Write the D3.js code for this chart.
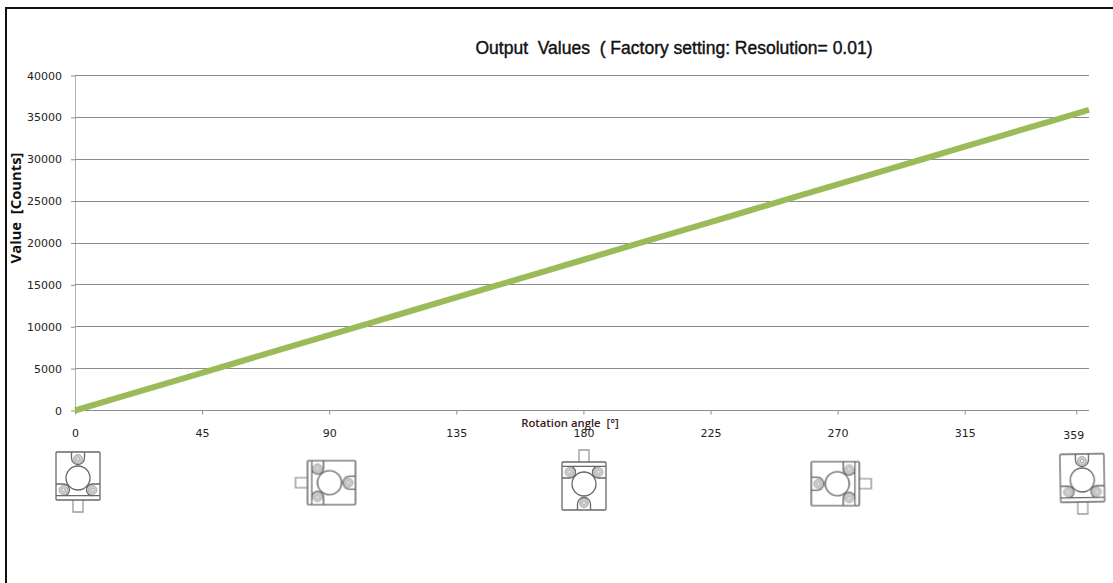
<!DOCTYPE html>
<html><head><meta charset="utf-8">
<script src="https://cdnjs.cloudflare.com/ajax/libs/d3/7.8.5/d3.min.js"></script>
<style>html,body{margin:0;padding:0;background:#fff}svg{display:block}</style>
</head><body><div id="c"></div>
<script>
const angles = [0,15,30,45,60,75,90,105,120,135,150,165,180,195,210,225,240,255,270,285,300,315,330,345,359];
const counts = [0,1500,3000,4500,6000,7500,9000,10500,12000,13500,15000,16500,18000,19500,21000,22500,24000,25500,27000,28500,30000,31500,33000,34500,35900];
const yTicks = [0,5000,10000,15000,20000,25000,30000,35000,40000];
const xTickPositions = [0,45,90,135,180,225,270,315,354.5];
const xTickLabels = ["0","45","90","135","180","225","270","315","359"];
const iconRotations = [0,90,180,270,359];
const titleText = "Output  Values  ( Factory setting: Resolution= 0.01)";
const xTitleText = "Rotation angle  [°]";
const yTitleText = "Value  [Counts]";

const W=1113,H=583;
const svg=d3.select("#c").append("svg").attr("width",W).attr("height",H);
svg.append("rect").attr("width",W).attr("height",H).attr("fill","#fff");
svg.append("path").attr("d",`M6,${H}V8H${W}`).attr("fill","none").attr("stroke","#111").attr("stroke-width",2);

const x=d3.scaleLinear().domain([0,359]).range([75,1089]);
const y=d3.scaleLinear().domain([0,40000]).range([410.5,75.5]);
const tickFont="DejaVu Sans, sans-serif";

const gy=svg.append("g").attr("transform","translate(75,0)")
 .call(d3.axisLeft(y).tickValues(yTicks).tickSize(4).tickPadding(9).tickFormat(d3.format("d")));
gy.select(".domain").attr("stroke","#b0b0b0").attr("d","M0.5,75.5V410.5");
gy.selectAll(".tick line").attr("stroke","#8c8c8c");
gy.selectAll("text").attr("font-family",tickFont).attr("font-size",11).attr("fill","#222");

svg.append("g").selectAll("line").data(yTicks.filter(d=>d>0)).join("line")
 .attr("x1",75).attr("x2",1089).attr("y1",d=>Math.floor(y(d))+0.5).attr("y2",d=>Math.floor(y(d))+0.5)
 .attr("stroke","#8c8c8c");

const gx=svg.append("g").attr("transform","translate(0,410.5)")
 .call(d3.axisBottom(x).tickValues(xTickPositions).tickSize(4).tickPadding(15)
 .tickFormat((d,i)=>xTickLabels[i]));
gx.select(".domain").attr("stroke","#8c8c8c").attr("d","M75,0H1089");
gx.selectAll(".tick line").attr("stroke","#8c8c8c");
gx.selectAll("text").attr("font-family",tickFont).attr("font-size",11).attr("fill","#222");
gx.selectAll(".tick").filter((d,i)=>i===xTickLabels.length-1).select("text").attr("dx",-3).attr("dy","0.9em");

const line=d3.line().x((d,i)=>x(angles[i])).y(d=>y(d));
svg.append("path").datum(counts).attr("d",line).attr("fill","none")
 .attr("stroke","#9bbb59").attr("stroke-width",6);

svg.append("text").attr("x",674).attr("y",54).attr("text-anchor","middle")
 .attr("font-family","Liberation Sans, Arial, sans-serif").attr("font-size",17.5)
 .attr("stroke","#111").attr("stroke-width",0.4).attr("fill","#111").style("white-space","pre").text(titleText);
svg.append("text").attr("x",570).attr("y",427).attr("text-anchor","middle")
 .attr("font-family","Open Sans, sans-serif").attr("font-size",11.3).attr("font-weight",600).attr("fill","#3a1a1a")
 .style("white-space","pre").text(xTitleText);
svg.append("text").attr("transform","translate(21,208) rotate(-90)").attr("text-anchor","middle")
 .attr("font-family","Open Sans, sans-serif").attr("font-size",14.8).attr("font-weight",700).attr("fill","#111")
 .style("white-space","pre").text(yTitleText);

const iconCentres=[[78,478],[329.5,482.7],[584,484],[837.3,483.7],[1082.3,480]];
const dark="#686868";
iconRotations.forEach((r,i)=>{
 const g=svg.append("g").attr("transform",`translate(${iconCentres[i]}) rotate(${r})`)
  .attr("fill","none").attr("stroke",dark).attr("stroke-width",1.3).style("filter","blur(0.3px)");
 g.append("path").attr("d","M-5,22V34H5V22").attr("stroke","#9a9a9a");
 g.append("rect").attr("x",-22).attr("y",-26).attr("width",44).attr("height",48).attr("rx",1).attr("fill","#fff");
 g.append("path").attr("d","M-22,17.7H22");
 g.append("path").attr("d","M-6.5,-26V-20A6.5,6.5 0 0 0 6.5,-20V-26");
 g.append("path").attr("d","M-22,6H-14.5A6,5.85 0 0 1 -14.5,17.7");
 g.append("path").attr("d","M22,6H14.5A6,5.85 0 0 0 14.5,17.7");
 g.append("circle").attr("r",12).attr("fill","#fff");
 [[0,-19],[-14.5,12],[14.5,12]].forEach(p=>{
  g.append("circle").attr("cx",p[0]).attr("cy",p[1]).attr("r",4.4).attr("fill","#cfcfcf").attr("stroke","#a5a5a5").attr("stroke-width",1);
  g.append("circle").attr("cx",p[0]).attr("cy",p[1]).attr("r",1.7).attr("fill","#eee").attr("stroke","#a0a0a0").attr("stroke-width",0.7);
 });
});
</script></body></html>
